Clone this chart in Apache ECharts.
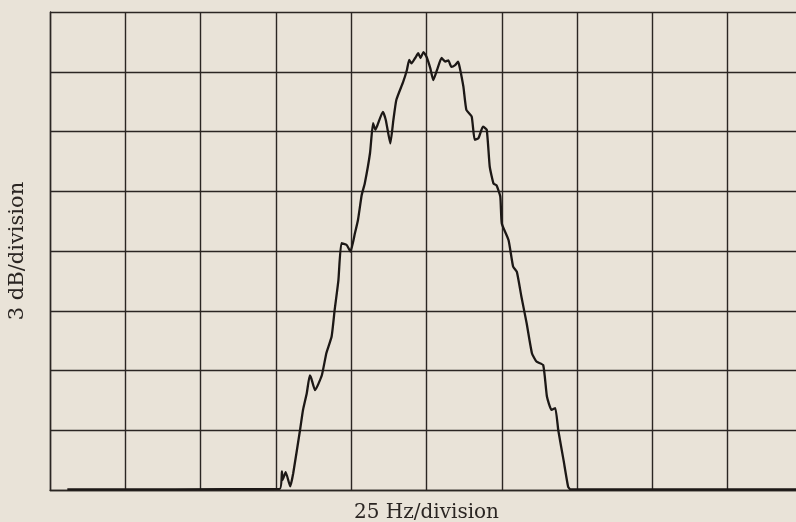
<!DOCTYPE html>
<html>
<head>
<meta charset="utf-8">
<script src="https://cdn.jsdelivr.net/npm/echarts@6/dist/echarts.min.js"></script>
<style>
html,body{margin:0;padding:0;background:#e9e3d8;}
#chart{width:796px;height:522px;}
</style>
</head>
<body>
<div id="chart"></div>
<script>
// Frequency offset in divisions (25 Hz/division)
var freqDiv = [0.23, 3.05, 3.08, 3.09, 3.13, 3.19, 3.23, 3.32, 3.36, 3.41, 3.45, 3.47, 3.52, 3.61, 3.67, 3.74, 3.78, 3.83, 3.87, 3.94, 3.99, 4.05, 4.09, 4.14, 4.18, 4.25, 4.29, 4.32, 4.35, 4.42, 4.46, 4.52, 4.56, 4.60, 4.69, 4.74, 4.77, 4.80, 4.85, 4.89, 4.92, 4.96, 5.00, 5.05, 5.09, 5.14, 5.20, 5.25, 5.29, 5.33, 5.38, 5.42, 5.44, 5.49, 5.53, 5.60, 5.64, 5.69, 5.75, 5.80, 5.84, 5.89, 5.93, 5.98, 6.00, 6.09, 6.15, 6.20, 6.26, 6.33, 6.40, 6.46, 6.55, 6.60, 6.66, 6.71, 6.75, 6.82, 6.88, 6.91, 10.0];
// Level in divisions (3 dB/division)
var levelDiv = [0.01, 0.02, 0.31, 0.17, 0.30, 0.06, 0.28, 1.00, 1.34, 1.62, 1.92, 1.87, 1.67, 1.92, 2.29, 2.57, 3.01, 3.51, 4.13, 4.10, 3.99, 4.30, 4.52, 4.94, 5.13, 5.64, 6.14, 6.03, 6.11, 6.33, 6.19, 5.80, 6.19, 6.53, 6.83, 7.03, 7.20, 7.14, 7.23, 7.31, 7.23, 7.33, 7.25, 7.06, 6.86, 7.03, 7.23, 7.17, 7.19, 7.08, 7.11, 7.17, 7.08, 6.75, 6.36, 6.25, 5.86, 5.89, 6.08, 6.03, 5.41, 5.13, 5.10, 4.91, 4.46, 4.18, 3.74, 3.65, 3.24, 2.79, 2.29, 2.15, 2.09, 1.56, 1.34, 1.37, 1.00, 0.50, 0.06, 0.01, 0.01];
var xAxisTitle = '25 Hz/division';
var yAxisTitle = '3 dB/division';

var pts = freqDiv.map(function (x, i) { return [x, levelDiv[i]]; });
var gridColor = '#2b2623';
var chart = echarts.init(document.getElementById('chart'), null, {renderer: 'canvas'});
chart.setOption({
  backgroundColor: '#e9e3d8',
  animation: false,
  grid: {left: 50, top: 12, width: 753, height: 478, containLabel: false, outerBoundsMode: 'none'},
  xAxis: {
    type: 'value', min: 0, max: 10, interval: 1,
    name: xAxisTitle, nameLocation: 'middle', nameGap: 13,
    nameTextStyle: {fontFamily: 'DejaVu Serif', fontSize: 20, color: '#2a2522'},
    axisLine: {show: true, lineStyle: {color: gridColor, width: 1.4}},
    axisTick: {show: false}, axisLabel: {show: false},
    splitLine: {show: true, lineStyle: {color: gridColor, width: 1.4}}
  },
  yAxis: {
    type: 'value', min: 0, max: 8, interval: 1,
    name: yAxisTitle, nameLocation: 'middle', nameGap: 22,
    nameTextStyle: {fontFamily: 'DejaVu Serif', fontSize: 21, color: '#2a2522'},
    axisLine: {show: true, lineStyle: {color: gridColor, width: 1.4}},
    axisTick: {show: false}, axisLabel: {show: false},
    splitLine: {show: true, lineStyle: {color: gridColor, width: 1.4}}
  },
  series: [{
    type: 'line', data: pts, showSymbol: false, smooth: 0.15,
    lineStyle: {color: '#1c1816', width: 2.3}
  }]
});
</script>
</body>
</html>
